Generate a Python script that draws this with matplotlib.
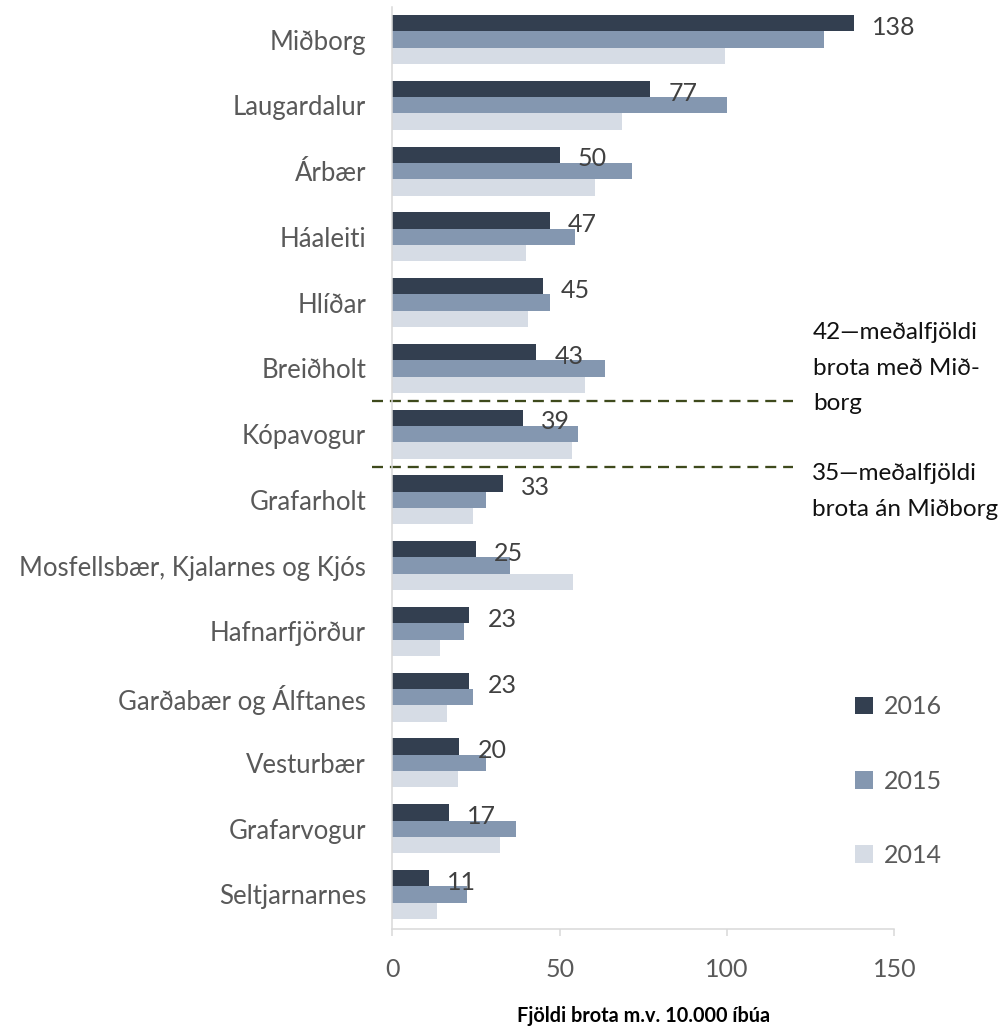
import numpy as np
import matplotlib
matplotlib.use('Agg')
import matplotlib.pyplot as plt

plt.rcParams['font.family'] = ['Lato', 'DejaVu Sans']

## data
hverfi = ['Miðborg', 'Laugardalur', 'Árbær', 'Háaleiti', 'Hlíðar', 'Breiðholt', 'Kópavogur',
          'Grafarholt', 'Mosfellsbær, Kjalarnes og Kjós', 'Hafnarfjörður',
          'Garðabær og Álftanes', 'Vesturbær', 'Grafarvogur', 'Seltjarnarnes']
brot_2016 = [138, 77, 50, 47, 45, 43, 39, 33, 25, 23, 23, 20, 17, 11]
brot_2015 = [129, 100, 71.5, 54.5, 47, 63.5, 55.5, 28, 35, 21.5, 24, 28, 37, 22.3]
brot_2014 = [99.5, 68.5, 60.5, 40, 40.5, 57.5, 53.5, 24, 54, 14.3, 16.3, 19.6, 32, 13.2]
medaltal = [42, 35]
medaltal_texti = ['42—meðalfjöldi\nbrota með Mið-\nborg', '35—meðalfjöldi\nbrota án Miðborg']
xticks = [0, 50, 100, 150]

fig = plt.figure(figsize=(10.02, 10.30), dpi=100)
ax = fig.add_axes([0.3917, 0.0978, 0.501, 0.8957])

y = np.arange(len(hverfi))
h = 0.248
ax.barh(y - h, brot_2016, height=h, color='#333F50', label='2016')
ax.barh(y, brot_2015, height=h, color='#8497B0', label='2015')
ax.barh(y + h, brot_2014, height=h, color='#D6DCE5', label='2014')

# value labels for 2016
for i, v in enumerate(brot_2016):
    ax.annotate(str(v), (v, y[i] - h), xytext=(13, -3), textcoords='offset points',
                va='center', ha='left', fontsize=18, color='#404040')

# average lines between Breiðholt/Kópavogur and Kópavogur/Grafarholt
ax.plot([-6.2, 119.7], [5.5, 5.5], color='#3E4A1C', lw=1.65, ls=(0, (4.8, 3)), clip_on=False)
ax.plot([-6.2, 119.7], [6.5, 6.5], color='#3E4A1C', lw=1.65, ls=(0, (4.8, 3)), clip_on=False)
ax.text(125.6, 5.0, medaltal_texti[0], va='center', ha='left', fontsize=17.5,
        linespacing=1.85, color='#111111', clip_on=False)
ax.text(125.4, 6.87, medaltal_texti[1], va='center', ha='left', fontsize=17.5,
        linespacing=1.85, color='#111111', clip_on=False)

ax.set_xlim(0, 150)
ax.set_ylim(13.53, -0.5)
ax.set_yticks(y)
ax.set_yticklabels(hverfi, fontsize=18.5, color='#595959')
ax.set_xticks(xticks)
ax.set_xticklabels([str(t) for t in xticks], fontsize=18, color='#595959')
ax.tick_params(axis='y', length=0, pad=19)
ax.tick_params(axis='x', length=5, width=1.1, color='#D9D9D9', pad=16)
for s in ['top', 'right']:
    ax.spines[s].set_visible(False)
for s in ['left', 'bottom']:
    ax.spines[s].set_color('#D9D9D9')
    ax.spines[s].set_linewidth(1.1)

ax.set_xlabel('Fjöldi brota m.v. 10.000 íbúa', fontsize=14.3, fontweight='bold', labelpad=18)

ax.legend(loc='center left', bbox_to_anchor=(0.831, 0.2417), bbox_transform=fig.transFigure,
          frameon=False, fontsize=18, handlelength=0.7, handleheight=0.7,
          handletextpad=0.45, labelspacing=2.05, labelcolor='#595959')

plt.savefig('out.png', dpi=100)
